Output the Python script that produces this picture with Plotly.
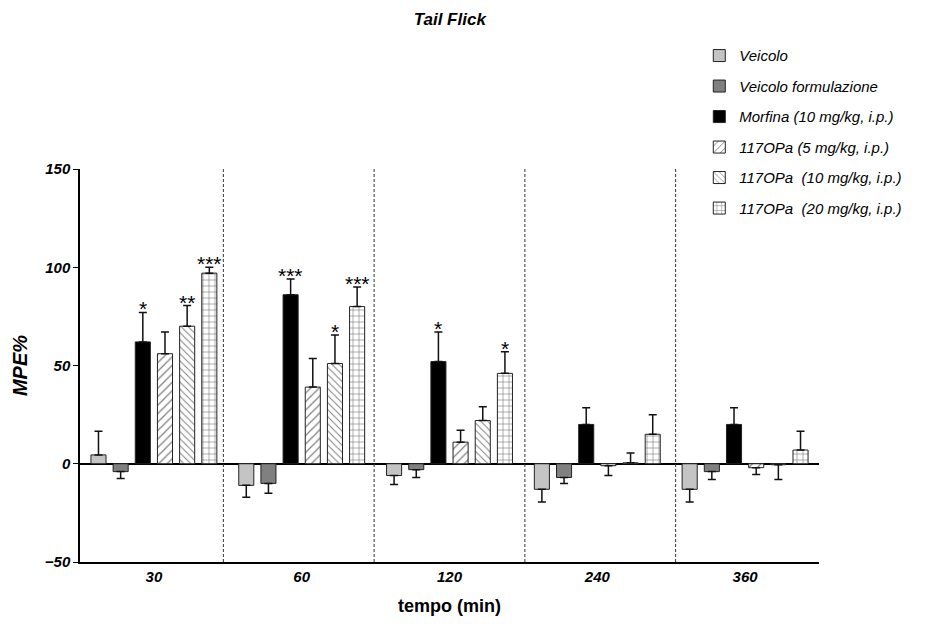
import plotly.graph_objects as go

# ---------------- data ----------------
time_labels = ["30", "60", "120", "240", "360"]
series_names = [
    "Veicolo",
    "Veicolo formulazione",
    "Morfina (10 mg/kg, i.p.)",
    "117OPa (5 mg/kg, i.p.)",
    "117OPa  (10 mg/kg, i.p.)",
    "117OPa  (20 mg/kg, i.p.)",
]
veicolo = [4.5, -11, -6, -13, -13]
veicolo_err = [12, 6, 4.5, 6.5, 6.5]
veicolo_form = [-4, -10, -3, -7, -4]
veicolo_form_err = [3.5, 5, 4, 3, 4]
morfina = [62, 86, 52, 20, 20]
morfina_err = [15, 8, 15, 8.5, 8.5]
opa5 = [56, 39, 11, -1, -2]
opa5_err = [11, 14.5, 6, 5, 3.5]
opa10 = [70, 51, 22, 0.5, -0.5]
opa10_err = [10.5, 14.5, 7, 5, 7.5]
opa20 = [97, 80, 46, 15, 7]
opa20_err = [3, 10, 11, 10, 9.5]

# significance marks: (series index, time index, text)
stars = [
    (2, 0, "*"), (4, 0, "**"), (5, 0, "***"),
    (2, 1, "***"), (4, 1, "*"), (5, 1, "***"),
    (2, 2, "*"), (5, 2, "*"),
]

values = [veicolo, veicolo_form, morfina, opa5, opa10, opa20]
errors = [veicolo_err, veicolo_form_err, morfina_err, opa5_err, opa10_err, opa20_err]

# ---------------- styles ----------------
FONT = "Arial, Liberation Sans, Helvetica, sans-serif"
fills = ["#c4c4c4", "#808080", "#000000", "white", "white", "white"]
patterns = ["", "", "", "/", "\\", "+"]
pat_sizes = [6, 6, 6, 6, 5, 6]

BARGAP = 0.1
BARGROUPGAP = 0.32
n_series = len(series_names)
slot = (1 - BARGAP) / n_series

fig = go.Figure()
x_idx = list(range(len(time_labels)))
for k in range(n_series):
    v = values[k]
    e = errors[k]
    up = [ee if vv >= 0 else 0 for vv, ee in zip(v, e)]
    down = [ee if vv < 0 else 0 for vv, ee in zip(v, e)]
    marker = dict(color=fills[k], line=dict(color="#222222", width=1))
    if patterns[k]:
        marker["pattern"] = dict(shape=patterns[k], fgcolor="#000000", bgcolor="white",
                                 size=pat_sizes[k], solidity=0.2, fillmode="overlay")
    fig.add_trace(go.Bar(
        x=x_idx, y=v, name=series_names[k], marker=marker,
        legendgroup="g%d" % k,
        error_y=dict(type="data", symmetric=False, array=up, arrayminus=down,
                     color="#111111", thickness=1.5, width=4),
    ))

# significance annotations
for s, t, txt in stars:
    xpos = t + (s - (n_series - 1) / 2) * slot
    ytop = values[s][t] + errors[s][t]
    fig.add_annotation(x=xpos, y=ytop, text=txt, showarrow=False, yanchor="bottom",
                       yshift=-10, font=dict(family=FONT, size=21, color="black"))

# dashed separators between time groups
for xs in [0.47, 1.49, 2.51, 3.53]:
    fig.add_shape(type="line", xref="x", yref="paper", x0=xs, x1=xs, y0=0, y1=1,
                  line=dict(color="#333333", width=1, dash="3px,2px"))

fig.update_layout(
    width=946, height=626,
    margin=dict(l=72, r=135, t=161, b=72),
    paper_bgcolor="white", plot_bgcolor="white",
    barmode="group", bargap=BARGAP, bargroupgap=BARGROUPGAP,
    font=dict(family=FONT, color="black"),
    title=dict(text="Tail Flick", x=0.467, xref="container",
               xanchor="center", y=0.982, yanchor="middle",
               font=dict(family=FONT, size=17, weight="bold", style="italic", color="black")),
    showlegend=True,
    legend=dict(x=0.838, y=1.330, xanchor="left", yanchor="top",
                font=dict(family=FONT, size=15, style="italic", color="black"),
                tracegroupgap=8, bgcolor="rgba(0,0,0,0)"),
)
fig.update_xaxes(
    range=[-0.5, 4.5], tickmode="array", tickvals=x_idx, ticktext=time_labels,
    showline=True, linecolor="black", linewidth=1.5, ticks="", showgrid=False, zeroline=False,
    tickfont=dict(family=FONT, size=15, weight="bold", style="italic", color="black"),
    title=dict(text="tempo (min)", standoff=16,
               font=dict(family=FONT, size=18, weight="bold", color="black")),
)
fig.update_yaxes(
    range=[-50, 150], tickvals=[-50, 0, 50, 100, 150],
    showline=True, linecolor="black", linewidth=1.5, ticks="outside", ticklen=5,
    tickcolor="black", showgrid=False,
    zeroline=True, zerolinecolor="black", zerolinewidth=1.5,
    tickfont=dict(family=FONT, size=15, weight="bold", style="italic", color="black"),
    title=dict(text="MPE%", standoff=12,
               font=dict(family=FONT, size=20, weight="bold", style="italic", color="black")),
)

fig.write_html("out.html")
